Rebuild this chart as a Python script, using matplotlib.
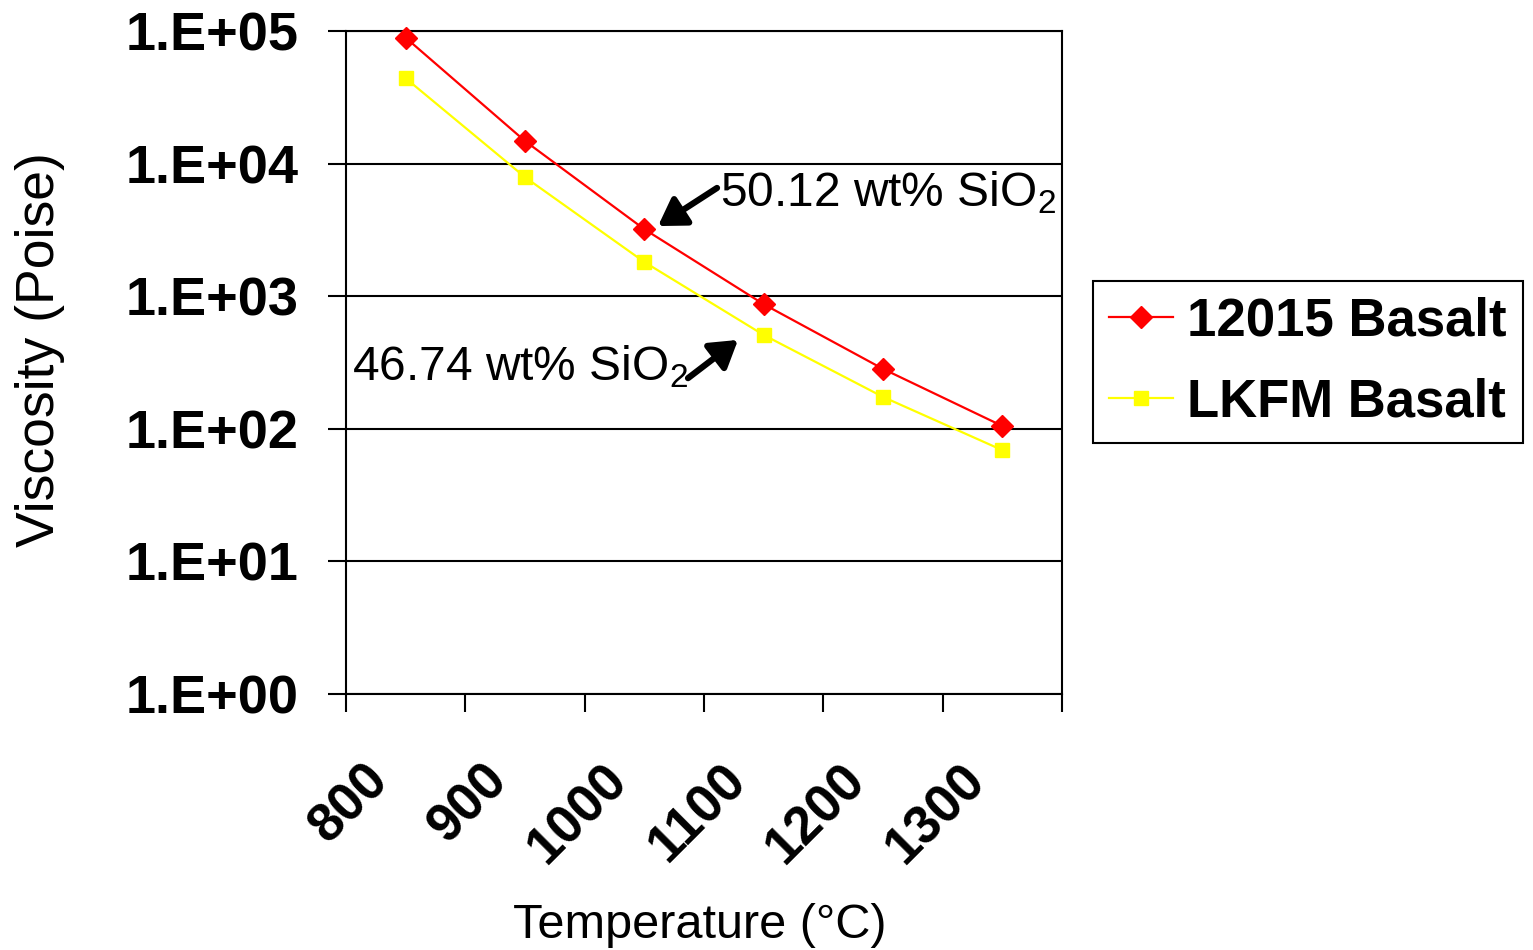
import matplotlib
matplotlib.use("Agg")
import matplotlib.pyplot as plt
import numpy as np

plt.rcParams['font.family'] = ['Liberation Sans', 'DejaVu Sans']
plt.rcParams['mathtext.fontset'] = 'custom'
plt.rcParams['mathtext.rm'] = 'Liberation Sans'
plt.rcParams['mathtext.it'] = 'Liberation Sans:italic'
plt.rcParams['mathtext.bf'] = 'Liberation Sans:bold'

categories = ["800", "900", "1000", "1100", "1200", "1300"]
basalt_12015 = [8.9e4, 1.48e4, 3.2e3, 8.7e2, 2.83e2, 1.05e2]
basalt_lkfm = [4.4e4, 7.9e3, 1.81e3, 5.1e2, 1.74e2, 6.9e1]
ytick_vals = [1e0, 1e1, 1e2, 1e3, 1e4, 1e5]
ytick_labels = ["1.E+00", "1.E+01", "1.E+02", "1.E+03", "1.E+04", "1.E+05"]

fig = plt.figure(figsize=(15.33, 9.5), dpi=100)
ax = fig.add_axes([346/1533, 1-694/950, (1062-346)/1533, (694-31)/950])

x = np.arange(len(categories))
ax.plot(x, basalt_12015, color='#FF0000', lw=1.6, marker='D', ms=11,
        mec='#FF0000', mfc='#FF0000', label='12015 Basalt', clip_on=False, zorder=4)
ax.plot(x, basalt_lkfm, color='#FFFF00', lw=1.6, marker='s', ms=9.5,
        mec='#FFFF00', mfc='#FFFF00', label='LKFM Basalt', clip_on=False, zorder=3)

ax.set_yscale('log')
ax.set_ylim(1e0, 1e5)
ax.set_xlim(-0.5, len(categories) - 0.5)
ax.set_yticks(ytick_vals)
ax.set_yticklabels(ytick_labels, fontsize=39, fontweight='bold')
ax.yaxis.set_minor_locator(matplotlib.ticker.NullLocator())
ax.tick_params(axis='y', which='major', length=13, width=1.5, pad=21, direction='out')
for v in ytick_vals:
    ax.axhline(v, color='black', lw=1.5, zorder=1)

ax.set_xticks(np.arange(len(categories) + 1) - 0.5)
ax.set_xticklabels([])
ax.tick_params(axis='x', which='major', length=13, width=1.5, direction='out')
ax.set_xticks(x, minor=True)
ax.set_xticklabels(categories, minor=True, fontsize=38, fontweight='bold',
                   rotation=45, ha='right', va='top', rotation_mode='anchor')
ax.tick_params(axis='x', which='minor', length=0, pad=44)
for lbl in ax.get_xticklabels(minor=True):
    lbl.set_transform(lbl.get_transform() + matplotlib.transforms.ScaledTranslation(-0.43, 0, fig.dpi_scale_trans))

for s in ax.spines.values():
    s.set_color('black')
    s.set_linewidth(1.5)

ax.set_ylabel('Viscosity (Poise)', fontsize=38.5)
ax.yaxis.label.set_va('center')
ax.yaxis.set_label_coords((40-346)/716, (694-350)/663)
ax.set_xlabel('Temperature (°C)', fontsize=35)
ax.xaxis.label.set_va('center')
ax.xaxis.set_label_coords((700-346)/716, (694-925)/663)

arrow_kw = dict(arrowstyle='-|>,head_length=0.8,head_width=0.5', color='black', lw=4.5,
                shrinkA=0, shrinkB=0, mutation_scale=20)
ax.text(2.634, 6.0e3, '50.12 wt% SiO$_2$', fontsize=34.5, ha='left', va='center')
ax.annotate('', xy=(2.115, 3.38e3), xytext=(2.609, 6.55e3), arrowprops=arrow_kw)
ax.text(2.366, 292, '46.74 wt% SiO$_2$', fontsize=34.5, ha='right', va='center')
ax.annotate('', xy=(2.785, 468), xytext=(2.366, 241), arrowprops=arrow_kw)

leg = ax.legend(loc='center', bbox_to_anchor=(1308/1533, 1-362/950), bbox_transform=fig.transFigure,
                fancybox=False, frameon=True, edgecolor='black', framealpha=1,
                prop={'size': 38, 'weight': 'bold'}, handlelength=1.2, handletextpad=0.28,
                borderpad=0.3, labelspacing=0.58, borderaxespad=0)
leg.get_frame().set_linewidth(1.5)

fig.savefig('out.png', dpi=100)
